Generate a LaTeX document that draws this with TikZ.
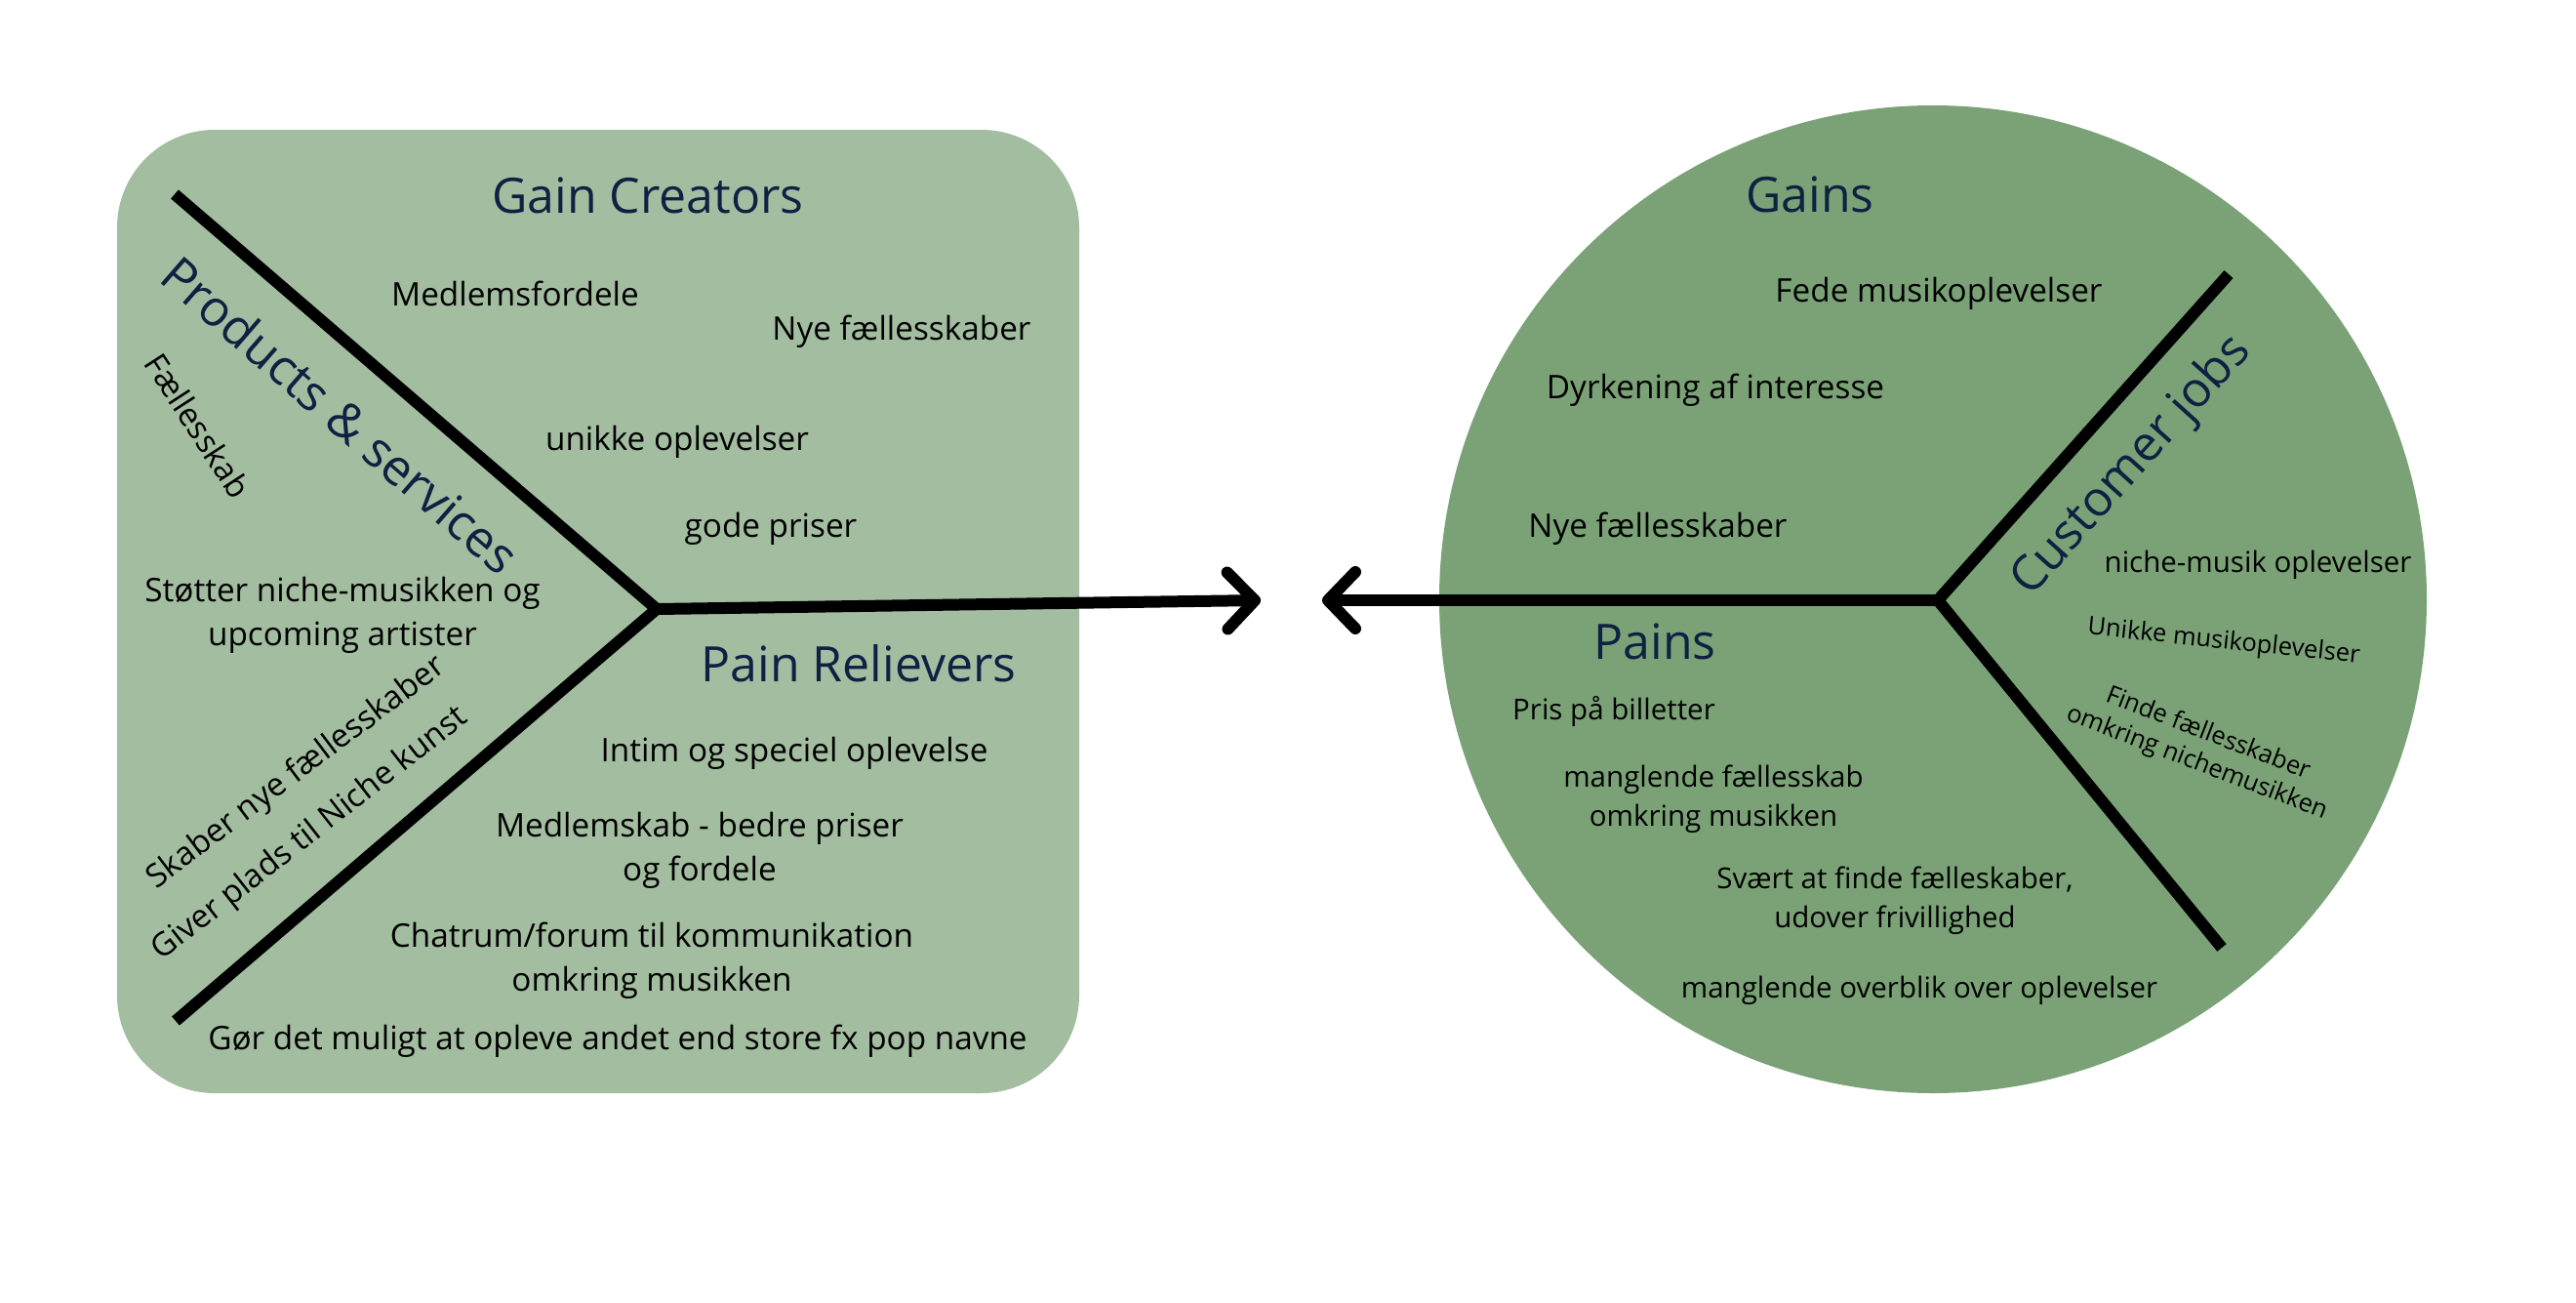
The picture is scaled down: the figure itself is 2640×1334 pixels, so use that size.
\documentclass[tikz,border=0pt]{standalone}
\usepackage{fontspec}
\setmainfont{Open Sans}
\usetikzlibrary{arrows.meta}
\definecolor{leftfill}{RGB}{163,189,160}
\definecolor{rightfill}{RGB}{122,162,118}
\definecolor{navy}{RGB}{15,33,66}
\tikzset{
  heading/.style={text=navy, font=\fontsize{50}{60}\selectfont, inner sep=0pt},
  bodytxt/.style={text=black, font=\fontsize{33.3}{45}\selectfont, align=center, inner sep=0pt},
  smalltxt/.style={text=black, font=\fontsize{29.5}{40}\selectfont, align=center, inner sep=0pt},
  tinytxt/.style={text=black, font=\fontsize{25.5}{32}\selectfont, align=center, inner sep=0pt},
  slanttxt/.style={text=black, font=\fontsize{33}{40}\selectfont, inner sep=0pt},
  bar/.style={line width=12pt, draw=black, line join=miter},
  arr/.style={line width=12pt, draw=black, -{Straight Barb[length=28pt, width=58pt, round]}}
}
\begin{document}
\begin{tikzpicture}[x=1pt, y=-1pt]
\useasboundingbox[fill=white] (0,0) rectangle (2640,1334);

% shapes
\node[fill=leftfill, rounded corners=100pt, minimum width=986pt, minimum height=987pt, inner sep=0pt] (vp) at (613,626.5) {};
\node[circle, fill=rightfill, minimum size=1012pt, inner sep=0pt] (cs) at (1981,614) {};

% coordinates
\coordinate (lA) at (179,199);
\coordinate (lV) at (673,624);
\coordinate (lB) at (180,1046);
\coordinate (ltip) at (1292,615);
\coordinate (rtip) at (1355,615);
\coordinate (rV) at (1986,615);
\coordinate (rA) at (2284,281);
\coordinate (rB) at (2277,971);

\draw[bar] (lA) -- (lV) -- (lB);
\draw[arr] (lV) -- (ltip);
\draw[bar] (rA) -- (rV) -- (rB);
\draw[arr] (rV) -- (rtip);

% left texts
\node[heading] (gc) at (664,200) {Gain Creators};
\node[heading, font=\fontsize{51}{60}\selectfont, rotate=-41] (ps) at (349,425) {Products \& services};
\node[heading] (pr) at (880,680) {Pain Relievers};
\node[bodytxt] (t1) at (528,301) {Medlemsfordele};
\node[bodytxt] (t2) at (924,340) {Nye fællesskaber};
\node[bodytxt] (t3) at (694,453) {unikke oplevelser};
\node[bodytxt] (t4) at (790,542) {gode priser};
\node[smalltxt, font=\fontsize{33}{40}\selectfont, rotate=-57] (t5) at (203,436) {Fællesskab};
\node[bodytxt] (t6) at (351,630) {Støtter niche-musikken og\\upcoming artister};
\node[slanttxt, rotate=37] (t7) at (304,792) {Skaber nye fællesskaber};
\node[slanttxt, rotate=38] (t8) at (318,855) {Giver plads til Niche kunst};
\node[bodytxt] (t9) at (814,772) {Intim og speciel oplevelse};
\node[bodytxt] (t10) at (717,871) {Medlemskab - bedre priser\\og fordele};
\node[bodytxt] (t11) at (668,984) {Chatrum/forum til kommunikation\\omkring musikken};
\node[bodytxt] (t12) at (633,1067) {Gør det muligt at opleve andet end store fx pop navne};

% right texts
\node[heading] (gn) at (1855,199) {Gains};
\node[heading] (pn) at (1696,657) {Pains};
\node[heading, rotate=48] (cj) at (2185,478) {Customer jobs};
\node[bodytxt] (g1) at (1987,301) {Fede musikoplevelser};
\node[bodytxt] (g2) at (1758,400) {Dyrkening af interesse};
\node[bodytxt] (g3) at (1699,542) {Nye fællesskaber};
\node[smalltxt] (p1) at (1654,729) {Pris på billetter};
\node[smalltxt] (p2) at (1756,819) {manglende fællesskab\\omkring musikken};
\node[smalltxt] (p3) at (1942,923) {Svært at finde fælleskaber,\\udover frivillighed};
\node[smalltxt] (p4) at (1967,1015) {manglende overblik over oplevelser};
\node[smalltxt] (c1) at (2314,579) {niche-musik oplevelser};
\node[tinytxt, rotate=-6] (c2) at (2279,658) {Unikke musikoplevelser};
\node[tinytxt, rotate=-21] (c3) at (2257,767) {Finde fællesskaber\\omkring nichemusikken};
\end{tikzpicture}
\end{document}
